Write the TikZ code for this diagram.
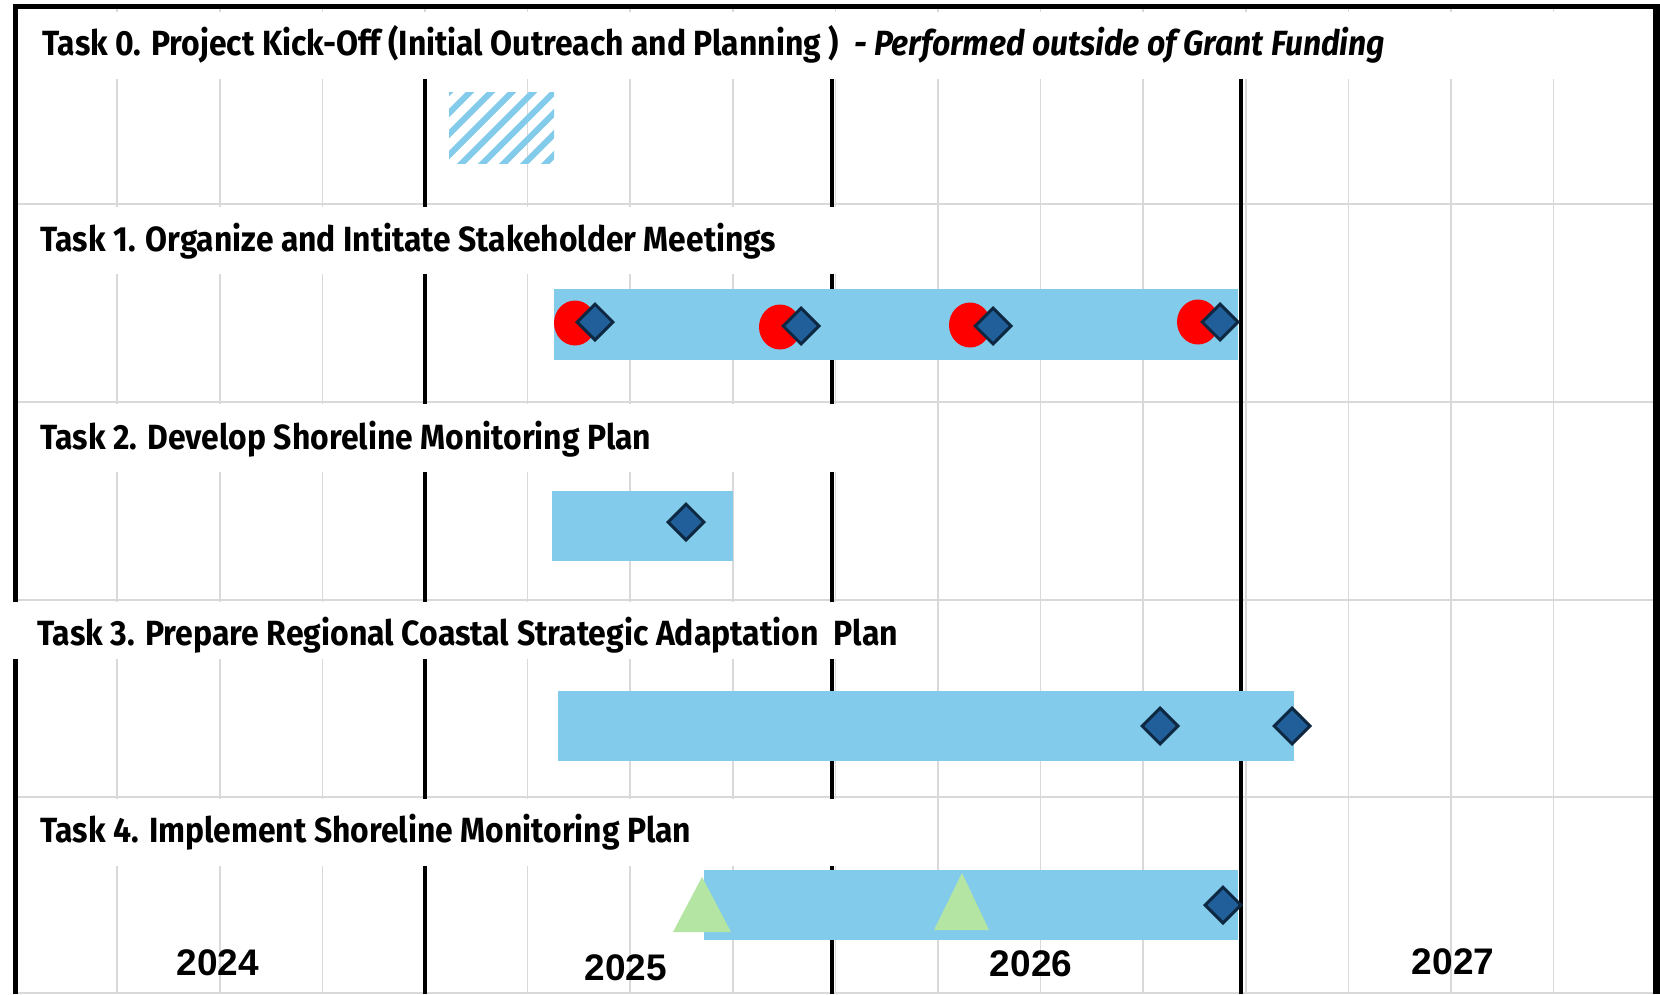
\documentclass[tikz,border=0pt]{standalone}
\usepackage{fontspec}
\usepackage{graphicx}
\usetikzlibrary{shapes.geometric}
\newfontfamily\titlefont{Fira Sans}
\newfontfamily\yearfont{Liberation Sans}
\definecolor{barblue}{HTML}{83CBEB}
\definecolor{gridgray}{HTML}{D9D9D9}
\definecolor{msfill}{HTML}{215F9A}
\definecolor{msline}{HTML}{0E2841}
\definecolor{trigreen}{HTML}{B4E5A2}
\tikzset{
  gridline/.style={gridgray, line width=1.6pt},
  yearline/.style={black, line width=4pt},
  band/.style={fill=white},
  bar/.style={fill=barblue},
  milestone/.style={diamond, draw=msline, fill=msfill, line width=3pt, minimum width=37pt, minimum height=37pt, inner sep=0pt},
  meeting/.style={ellipse, fill=red, minimum width=42pt, minimum height=45pt, inner sep=0pt},
  tasktitle/.style={anchor=base west, inner sep=0pt, font=\titlefont\bfseries\fontsize{35}{38}\selectfont},
  yearlabel/.style={inner sep=0pt, font=\yearfont\bfseries\fontsize{37}{40}\selectfont},
  workshop/.style={fill=trigreen},
}
\begin{document}
\begin{tikzpicture}[x=1pt,y=-1pt]
\useasboundingbox (0,0) rectangle (1660,994);
\fill[white] (0,0) rectangle (1660,994);
% grid
\foreach \q in {1,...,15} \draw[gridline] (14.5+102.6*\q,9) -- (14.5+102.6*\q,994);
\foreach \y in {204,402,600,797,993} \draw[gridline] (15,\y) -- (1656,\y);
% year boundaries
\foreach \x in {424.5,832,1241} \draw[yearline] (\x,79) -- (\x,994);
% outer frame
\draw[black, line width=5pt] (15.5,994) -- (15.5,6.5) -- (1660,6.5);
\draw[black, line width=7pt] (1656.5,4) -- (1656.5,994);
% title bands
\fill[band] (18,12) rectangle (1652,79);
\fill[band] (18,207) rectangle (905,274);
\fill[band] (18,404) rectangle (905,472);
\fill[band] (12,602) rectangle (935,659);
\fill[band] (18,799) rectangle (905,866);
% titles
\node[tasktitle] (t0) at (42,55) {\resizebox{1343pt}{\height}{Task 0. Project Kick-Off (Initial Outreach and Planning )\ \ \textit{- Performed outside of Grant Funding}}};
\node[tasktitle] (t1) at (40,251) {\resizebox{736pt}{\height}{Task 1. Organize and Intitate Stakeholder Meetings}};
\node[tasktitle] (t2) at (40,449) {\resizebox{611pt}{\height}{Task 2. Develop Shoreline Monitoring Plan}};
\node[tasktitle] (t3) at (37,645) {\resizebox{861pt}{\height}{Task 3. Prepare Regional Coastal Strategic Adaptation\ \ Plan}};
\node[tasktitle] (t4) at (40,842) {\resizebox{651pt}{\height}{Task 4. Implement Shoreline Monitoring Plan}};
% task 0 hatched box
\begin{scope}
  \clip (449,92) rectangle (554,163);
  \foreach \s in {371,392,...,560} \draw[barblue, line width=6pt] (\s,170) -- (\s+85,85);
\end{scope}
% task 1
\fill[bar] (554,289) rectangle (1238,360);
\node[meeting] (m1) at (575,323) {};
\node[milestone] (d1) at (595,322) {};
\node[meeting] (m2) at (780,327) {};
\node[milestone] (d2) at (801,326) {};
\node[meeting] (m3) at (970,325) {};
\node[milestone] (d3) at (993,326) {};
\node[meeting] (m4) at (1198,322) {};
\node[milestone] (d4) at (1220,322) {};
% task 2
\fill[bar] (552,491) rectangle (733,561);
\node[milestone] (d5) at (686,522) {};
% task 3
\fill[bar] (558,691) rectangle (1294,761);
\node[milestone] (d6) at (1160,726) {};
\node[milestone] (d7) at (1292,726) {};
% task 4
\fill[bar] (704,870) rectangle (1238,940);
\fill[workshop] (673,932) -- (702,877) -- (731,932) -- cycle;
\fill[workshop] (934,930) -- (962,873) -- (989,930) -- cycle;
\node[milestone] (d8) at (1223,905) {};
% years
\node[yearlabel] (y24) at (218,963) {2024};
\node[yearlabel] (y25) at (626,968) {2025};
\node[yearlabel] (y26) at (1031,964) {2026};
\node[yearlabel] (y27) at (1453,962) {2027};
\end{tikzpicture}
\end{document}
